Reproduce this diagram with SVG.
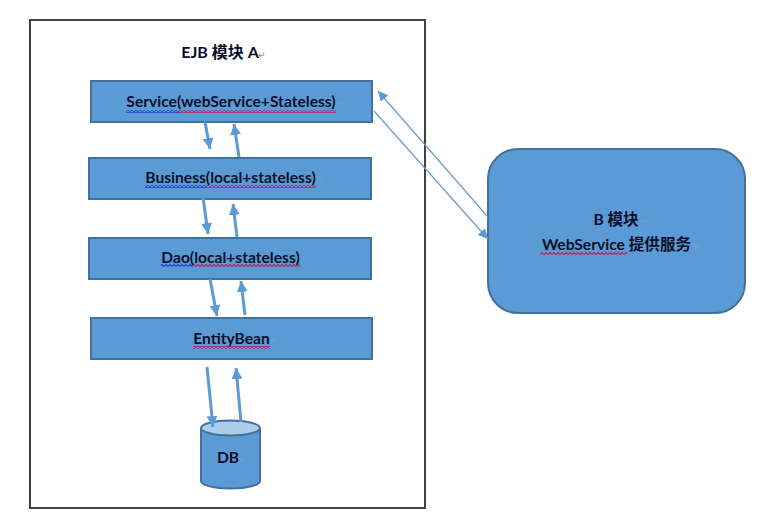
<svg xmlns="http://www.w3.org/2000/svg" width="758" height="529" viewBox="0 0 758 529">
  <style>
    .frame { fill: #fff; stroke: #404040; stroke-width: 2; }
    .shape { fill: #5b9bd5; stroke: #41719c; stroke-width: 2; }
    .lid { fill: #adcdea; stroke: #41719c; stroke-width: 2; }
    .label { font-family: "Lato", "Noto Sans CJK SC", sans-serif; font-weight: 700; font-size: 15.6px; fill: #0a0f2a; text-anchor: middle; }
    .mark { font-family: "DejaVu Sans", sans-serif; font-size: 9px; fill: #8a9099; }
    .mark.faint { fill: #7f9dbb; }
    .thick { fill: none; stroke: #5b9bd5; stroke-width: 3; marker-end: url(#head-thick); }
    .thin { fill: none; stroke: #6a9bcb; stroke-width: 1.2; marker-end: url(#head-thin); }
  </style>
  <defs>
    <marker id="head-thick" markerUnits="userSpaceOnUse" markerWidth="14" markerHeight="12" refX="11" refY="5.500" orient="auto">
      <path d="M0 0 L11 5.500 L0 11 Z" fill="#5b9bd5"/>
    </marker>
    <marker id="head-thin" markerUnits="userSpaceOnUse" markerWidth="12" markerHeight="10" refX="10" refY="5" orient="auto">
      <path d="M0 0 L10 5 L0 10 Z" fill="#5b9bd5"/>
    </marker>
    <pattern id="wavy-red" width="4" height="3" patternUnits="userSpaceOnUse">
      <path d="M0 2.500 L2 0.500 L4 2.500" fill="none" stroke="#c21f55" stroke-width="1.100"/>
    </pattern>
    <pattern id="wavy-blue" width="4" height="3" patternUnits="userSpaceOnUse">
      <path d="M0 2.500 L2 0.500 L4 2.500" fill="none" stroke="#1f3fd0" stroke-width="1.100"/>
    </pattern>
  </defs>

  <rect width="758" height="529" fill="#fff"/>

  <g id="module-a">
    <rect class="frame" x="30" y="20" width="395" height="488"/>
    <text class="label" x="220" y="58" style="font-size:16px">EJB 模块 A</text>
    <text class="mark" x="258" y="58">↵</text>
  </g>

  <g id="service">
    <rect class="shape" x="91" y="81" width="281" height="41"/>
    <text class="label" x="231" y="107">Service(webService+Stateless)</text>
    <text class="mark faint" x="336" y="106">↵</text>
    <rect x="126" y="110" width="54" height="3" fill="url(#wavy-blue)"/>
    <rect x="180" y="110" width="156" height="3" fill="url(#wavy-red)"/>
  </g>

  <g id="business">
    <rect class="shape" x="89" y="158" width="282" height="41"/>
    <text class="label" x="230.500" y="183">Business(local+stateless)</text>
    <text class="mark faint" x="316" y="182">↵</text>
    <rect x="145" y="185" width="62" height="3" fill="url(#wavy-blue)"/>
    <rect x="207" y="185" width="109" height="3" fill="url(#wavy-red)"/>
  </g>

  <g id="dao">
    <rect class="shape" x="89" y="238" width="282" height="41"/>
    <text class="label" x="230.500" y="263">Dao(local+stateless)</text>
    <rect x="161" y="264" width="32" height="3" fill="url(#wavy-blue)"/>
    <rect x="193" y="264" width="107" height="3" fill="url(#wavy-red)"/>
  </g>

  <g id="entity-bean">
    <rect class="shape" x="91" y="318" width="281" height="41"/>
    <text class="label" x="231.500" y="344">EntityBean</text>
    <text class="mark faint" x="270" y="343">↵</text>
    <rect x="193" y="346" width="77" height="3" fill="url(#wavy-red)"/>
  </g>

  <g id="db">
    <path class="shape" d="M201 428 V481 A29.500 7.500 0 0 0 260 481 V428"/>
    <ellipse class="lid" cx="230.500" cy="428" rx="29.500" ry="7.500"/>
    <text class="label" x="228" y="463">DB</text>
    <text class="mark faint" x="238" y="462">↵</text>
  </g>

  <g id="module-b">
    <rect class="shape" x="488" y="149" width="257" height="164" rx="30" ry="30"/>
    <text class="label" x="616" y="225">B 模块</text>
    <text class="mark faint" x="640" y="224">↵</text>
    <text class="label" x="616.500" y="250">WebService 提供服务</text>
    <text class="mark faint" x="693" y="249">↵</text>
    <rect x="540" y="252" width="87" height="3" fill="url(#wavy-red)"/>
  </g>

  <g id="connectors">
    <line class="thick" x1="205" y1="122" x2="210" y2="149"/>
    <line class="thick" x1="239" y1="157" x2="234" y2="124"/>
    <line class="thick" x1="203" y1="197" x2="208" y2="234"/>
    <line class="thick" x1="237" y1="237" x2="233" y2="204"/>
    <line class="thick" x1="210" y1="279" x2="217" y2="316"/>
    <line class="thick" x1="245" y1="315" x2="241" y2="281"/>
    <line class="thick" x1="207" y1="367" x2="213" y2="427"/>
    <line class="thick" x1="241" y1="422" x2="236" y2="368"/>
    <line class="thin" x1="488" y1="217" x2="378" y2="91"/>
    <line class="thin" x1="374" y1="111" x2="488" y2="239"/>
  </g>
</svg>
